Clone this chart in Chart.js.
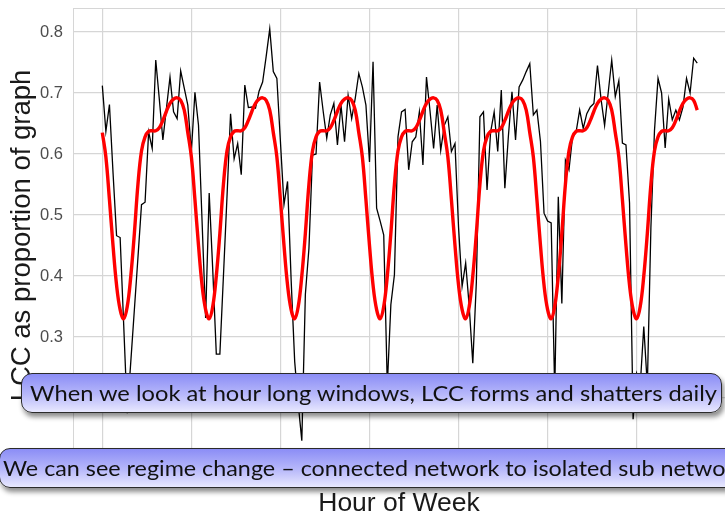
<!DOCTYPE html>
<html>
<head>
<meta charset="utf-8">
<script src="https://cdn.jsdelivr.net/npm/chart.js@4.4.0/dist/chart.umd.min.js"></script>
<style>
  body { margin: 0; background: #fff; }
  #wrap { position: relative; width: 725px; height: 514px; overflow: hidden; }
  .note {
    position: absolute;
    height: 40px;
    box-sizing: border-box;
    border: 1px solid #2b2b2b;
    border-radius: 11px;
    background: linear-gradient(to bottom, #8b8df6 0%, #b8b9fa 55%, #e8e8fe 100%);
    box-shadow: 2px 4px 5px rgba(0, 0, 0, 0.45);
    font-family: Lato, sans-serif;
    font-size: 21.5px;
    color: #111;
    line-height: 38px;
    white-space: nowrap;
    overflow: hidden;
  }
  .note span { display: inline-block; transform-origin: 0 50%; }
  #note1 { left: 21px; top: 373px; width: 701px; padding-left: 8px; }
  #note2 { left: -1px; top: 448px; width: 780px; padding-left: 3px; }
</style>
</head>
<body>
<div id="wrap">
  <canvas id="lccChart" width="725" height="514"></canvas>
  <div class="note" id="note1"><span id="note1Text">When we look at hour long windows, LCC forms and shatters daily</span></div>
  <div class="note" id="note2"><span id="note2Text">We can see regime change – connected network to isolated sub network</span></div>
</div>
<script>
// hour of the week, 0..167
const hours = Array.from({ length: 168 }, (_, i) => i);

// largest connected component size, one value per hour
const lccHourly = [
  0.712, 0.637, 0.681, 0.570, 0.466, 0.463, 0.320, 0.175, 0.260, 0.345, 0.430, 0.517,
  0.521, 0.636, 0.609, 0.754, 0.690, 0.623, 0.675, 0.726, 0.669, 0.658, 0.736, 0.708,
  0.680, 0.604, 0.701, 0.647, 0.490, 0.331, 0.536, 0.410, 0.272, 0.272, 0.400, 0.530,
  0.666, 0.592, 0.617, 0.566, 0.713, 0.676, 0.677, 0.675, 0.703, 0.718, 0.760, 0.805,
  0.735, 0.724, 0.620, 0.517, 0.555, 0.394, 0.260, 0.190, 0.130, 0.370, 0.445, 0.598,
  0.600, 0.718, 0.670, 0.626, 0.664, 0.683, 0.615, 0.680, 0.620, 0.696, 0.658, 0.691,
  0.732, 0.710, 0.680, 0.587, 0.751, 0.511, 0.490, 0.467, 0.220, 0.353, 0.402, 0.628,
  0.669, 0.673, 0.574, 0.620, 0.628, 0.669, 0.582, 0.726, 0.670, 0.609, 0.680, 0.606,
  0.647, 0.661, 0.604, 0.617, 0.480, 0.383, 0.421, 0.350, 0.257, 0.390, 0.661, 0.669,
  0.541, 0.636, 0.669, 0.604, 0.705, 0.544, 0.630, 0.702, 0.623, 0.710, 0.721, 0.735,
  0.748, 0.664, 0.672, 0.620, 0.503, 0.490, 0.487, 0.210, 0.530, 0.355, 0.590, 0.574,
  0.628, 0.636, 0.672, 0.642, 0.666, 0.677, 0.683, 0.745, 0.690, 0.647, 0.700, 0.754,
  0.694, 0.720, 0.618, 0.615, 0.520, 0.165, 0.240, 0.220, 0.317, 0.220, 0.480, 0.638,
  0.724, 0.700, 0.610, 0.690, 0.656, 0.672, 0.656, 0.677, 0.724, 0.700, 0.757, 0.749
];

// periodic daily fit
const lccFitted = [
  0.635, 0.595, 0.525, 0.450, 0.385, 0.345, 0.330, 0.350, 0.400, 0.470, 0.550, 0.605,
  0.628, 0.637, 0.638, 0.638, 0.643, 0.655, 0.670, 0.683, 0.690, 0.692, 0.688, 0.672,
  0.635, 0.595, 0.525, 0.450, 0.385, 0.345, 0.330, 0.350, 0.400, 0.470, 0.550, 0.605,
  0.628, 0.637, 0.638, 0.638, 0.643, 0.655, 0.670, 0.683, 0.690, 0.692, 0.688, 0.672,
  0.635, 0.595, 0.525, 0.450, 0.385, 0.345, 0.330, 0.350, 0.400, 0.470, 0.550, 0.605,
  0.628, 0.637, 0.638, 0.638, 0.643, 0.655, 0.670, 0.683, 0.690, 0.692, 0.688, 0.672,
  0.635, 0.595, 0.525, 0.450, 0.385, 0.345, 0.330, 0.350, 0.400, 0.470, 0.550, 0.605,
  0.628, 0.637, 0.638, 0.638, 0.643, 0.655, 0.670, 0.683, 0.690, 0.692, 0.688, 0.672,
  0.635, 0.595, 0.525, 0.450, 0.385, 0.345, 0.330, 0.350, 0.400, 0.470, 0.550, 0.605,
  0.628, 0.637, 0.638, 0.638, 0.643, 0.655, 0.670, 0.683, 0.690, 0.692, 0.688, 0.672,
  0.635, 0.595, 0.525, 0.450, 0.385, 0.345, 0.330, 0.350, 0.400, 0.470, 0.550, 0.605,
  0.628, 0.637, 0.638, 0.638, 0.643, 0.655, 0.670, 0.683, 0.690, 0.692, 0.688, 0.672,
  0.635, 0.595, 0.525, 0.450, 0.385, 0.345, 0.330, 0.350, 0.400, 0.470, 0.550, 0.605,
  0.628, 0.637, 0.638, 0.638, 0.643, 0.655, 0.670, 0.683, 0.690, 0.692, 0.688, 0.672
];

const xTicks = [0, 25, 50, 75, 100, 125, 150];
const yTicks = [0.1, 0.2, 0.3, 0.4, 0.5, 0.6, 0.7, 0.8];

const gridColor = "#d6d6d6";

// thin frame round the plotting panel
const panelBorder = {
  id: "panelBorder",
  beforeDatasetsDraw(chart) {
    const { ctx, chartArea } = chart;
    ctx.save();
    ctx.strokeStyle = gridColor;
    ctx.lineWidth = 1;
    ctx.strokeRect(chartArea.left + 0.5, chartArea.top + 0.5,
      chartArea.right - chartArea.left, chartArea.bottom - chartArea.top);
    ctx.restore();
  }
};

new Chart(document.getElementById("lccChart"), {
  type: "line",
  data: {
    datasets: [
      {
        label: "LCC",
        data: hours.map((h, i) => ({ x: h, y: lccHourly[i] })),
        borderColor: "#000000",
        borderWidth: 1.3,
        pointRadius: 0,
        tension: 0,
        order: 2
      },
      {
        label: "Fit",
        data: hours.map((h, i) => ({ x: h, y: lccFitted[i] })),
        borderColor: "#ff0000",
        borderWidth: 3.4,
        pointRadius: 0,
        tension: 0.4,
        order: 1
      }
    ]
  },
  options: {
    responsive: false,
    animation: false,
    devicePixelRatio: 1,
    layout: { padding: { top: 8, right: 0, left: 0, bottom: 0 } },
    plugins: {
      legend: { display: false },
      tooltip: { enabled: false }
    },
    scales: {
      x: {
        type: "linear",
        min: -8.23,
        max: 174.8,
        afterBuildTicks: (axis) => { axis.ticks = xTicks.map((v) => ({ value: v })); },
        afterFit: (axis) => {
          axis.height = 51;
          axis.paddingLeft = 0;
          axis.paddingRight = 0;
        },
        grid: { color: gridColor, lineWidth: 1.2, drawTicks: false },
        border: { display: false },
        ticks: {
          padding: 6,
          color: "#4d4d4d",
          font: { family: "Liberation Sans", size: 16.5 }
        },
        title: {
          display: true,
          text: "Hour of Week",
          color: "#1a1a1a",
          padding: 0,
          font: { family: "Liberation Sans", size: 26.5, lineHeight: 0.8 }
        }
      },
      y: {
        min: 0.0934,
        max: 0.8393,
        afterBuildTicks: (axis) => { axis.ticks = yTicks.map((v) => ({ value: v })); },
        afterFit: (axis) => {
          axis.width = 73;
          axis.paddingTop = 0;
          axis.paddingBottom = 0;
        },
        grid: { color: gridColor, lineWidth: 1.2, drawTicks: false },
        border: { display: false },
        ticks: {
          padding: 10,
          color: "#4d4d4d",
          font: { family: "Liberation Sans", size: 16.5 },
          callback: (v) => v.toFixed(1)
        },
        title: {
          display: true,
          text: "LCC as proportion of graph",
          color: "#1a1a1a",
          padding: { top: 6, bottom: 0 },
          font: { family: "Liberation Sans", size: 27.5, lineHeight: 1.2 }
        }
      }
    }
  },
  plugins: [panelBorder]
});

// stretch the note lettering so the first line runs across its box
const first = document.getElementById("note1Text");
const stretch = 687 / first.getBoundingClientRect().width;
document.getElementById("note1Text").style.transform = "scaleX(" + stretch + ")";
document.getElementById("note2Text").style.transform = "scaleX(" + (stretch * 0.985) + ")";
</script>
</body>
</html>
